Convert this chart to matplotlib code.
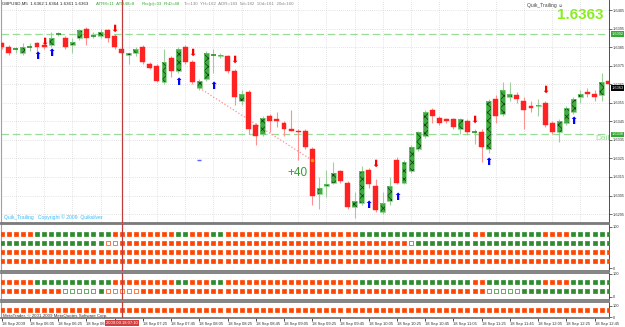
import matplotlib
matplotlib.use("Agg")
import matplotlib.pyplot as plt
from matplotlib.patches import Rectangle

# GBPUSD M5 candles, 18 Sep 2009 05:45 .. 12:55
opens = [1.6387, 1.6385, 1.6384, 1.6382, 1.6385, 1.6387, 1.6386, 1.6386, 1.6392, 1.6390,
         1.6386, 1.6390, 1.6395, 1.6391, 1.6391, 1.6394, 1.6391, 1.6384, 1.6381, 1.6382,
         1.6385, 1.6376, 1.6375, 1.6366, 1.6379, 1.6372, 1.6385, 1.6377, 1.6363, 1.6368,
         1.6381, 1.6380, 1.6380, 1.6372, 1.6356, 1.6361, 1.6343, 1.6338, 1.6348, 1.6346,
         1.6344, 1.6341, 1.6340, 1.6340, 1.6330, 1.6306, 1.6310, 1.6312, 1.6318, 1.6312,
         1.6299, 1.6301, 1.6319, 1.6310, 1.6296, 1.6302, 1.6324, 1.6312, 1.6318, 1.6330,
         1.6337, 1.6351, 1.6347, 1.6346, 1.6346, 1.6341, 1.6345, 1.6339, 1.6339, 1.6330,
         1.6357, 1.6349, 1.6358, 1.6359, 1.6356, 1.6353, 1.6353, 1.6355, 1.6344, 1.6339,
         1.6344, 1.6350, 1.6358, 1.6361, 1.6360, 1.6359, 1.6367]
highs = [1.6388, 1.6386, 1.6385, 1.6387, 1.6387, 1.6388, 1.6386, 1.6393, 1.6393, 1.6391,
         1.6390, 1.6395, 1.6396, 1.6393, 1.6395, 1.6395, 1.6392, 1.6385, 1.6382, 1.6385,
         1.6386, 1.6377, 1.6376, 1.6384, 1.6380, 1.6385, 1.6386, 1.6378, 1.6368, 1.6383,
         1.6384, 1.6382, 1.6381, 1.6373, 1.6362, 1.6362, 1.6344, 1.6348, 1.6349, 1.6350,
         1.6345, 1.6351, 1.6341, 1.6341, 1.6331, 1.6315, 1.6319, 1.6323, 1.6319, 1.6313,
         1.6307, 1.6321, 1.6320, 1.6314, 1.6307, 1.6315, 1.6326, 1.6324, 1.6332, 1.6340,
         1.6351, 1.6352, 1.6348, 1.6347, 1.6347, 1.6347, 1.6346, 1.6341, 1.6341, 1.6357,
         1.6359, 1.6366, 1.6366, 1.6361, 1.6358, 1.6356, 1.6357, 1.6356, 1.6345, 1.6346,
         1.6353, 1.6358, 1.6362, 1.6363, 1.6362, 1.6371, 1.6368]
lows = [1.6384, 1.6381, 1.6382, 1.6381, 1.6383, 1.6382, 1.6384, 1.6385, 1.6391, 1.6384,
        1.6382, 1.6389, 1.6386, 1.6390, 1.6390, 1.6388, 1.6384, 1.6381, 1.6376, 1.6380,
        1.6376, 1.6373, 1.6366, 1.6365, 1.6369, 1.6371, 1.6376, 1.6365, 1.6362, 1.6367,
        1.6371, 1.6379, 1.6371, 1.6354, 1.6354, 1.6338, 1.6332, 1.6337, 1.6339, 1.6342,
        1.6337, 1.6340, 1.6324, 1.6330, 1.6300, 1.6298, 1.6304, 1.6311, 1.6312, 1.6298,
        1.6293, 1.6300, 1.6309, 1.6296, 1.6295, 1.6300, 1.6311, 1.6311, 1.6317, 1.6329,
        1.6336, 1.6344, 1.6343, 1.6344, 1.6341, 1.6338, 1.6338, 1.6333, 1.6323, 1.6328,
        1.6344, 1.6348, 1.6356, 1.6355, 1.6341, 1.6350, 1.6348, 1.6342, 1.6338, 1.6334,
        1.6343, 1.6349, 1.6355, 1.6358, 1.6356, 1.6356, 1.6355]
closes = [1.6385, 1.6382, 1.6384, 1.6385, 1.6385, 1.6385, 1.6385, 1.6390, 1.6392, 1.6385,
          1.6388, 1.6394, 1.6390, 1.6391, 1.6393, 1.6390, 1.6385, 1.6382, 1.6382, 1.6384,
          1.6377, 1.6374, 1.6367, 1.6377, 1.6372, 1.6384, 1.6377, 1.6366, 1.6367, 1.6382,
          1.6381, 1.6381, 1.6372, 1.6358, 1.6360, 1.6341, 1.6337, 1.6347, 1.6345, 1.6345,
          1.6341, 1.6340, 1.6339, 1.6331, 1.6305, 1.6309, 1.6311, 1.6317, 1.6313, 1.6299,
          1.6302, 1.6318, 1.6311, 1.6297, 1.6301, 1.6310, 1.6312, 1.6323, 1.6331, 1.6339,
          1.6350, 1.6348, 1.6344, 1.6345, 1.6342, 1.6346, 1.6339, 1.6339, 1.6331, 1.6356,
          1.6348, 1.6362, 1.6360, 1.6357, 1.6351, 1.6352, 1.6354, 1.6343, 1.6339, 1.6345,
          1.6352, 1.6357, 1.6360, 1.6360, 1.6358, 1.6366, 1.6365]

time_labels = ["18 Sep 2009", "18 Sep 06:05", "18 Sep 06:25", "18 Sep 06:45", "",
               "18 Sep 07:25", "18 Sep 07:45", "18 Sep 08:05", "18 Sep 08:25", "18 Sep 08:45",
               "18 Sep 09:05", "18 Sep 09:25", "18 Sep 09:45", "18 Sep 10:05", "18 Sep 10:25",
               "18 Sep 10:45", "18 Sep 11:05", "18 Sep 11:25", "18 Sep 11:45", "18 Sep 12:05",
               "18 Sep 12:25", "18 Sep 12:45"]
price_ticks = [1.6295, 1.6305, 1.6315, 1.6325, 1.6335, 1.6345, 1.6355, 1.6365,
               1.6375, 1.6385, 1.6395, 1.6405]

up_bars = [5, 7, 25, 30, 52, 56, 69, 81]
up_prices = [1.6380, 1.6382, 1.6366, 1.6364, 1.6300, 1.6304, 1.6323, 1.6345]
down_bars = [6, 16, 27, 33, 53, 67, 77]
down_prices = [1.6388, 1.6395, 1.6382, 1.6378, 1.6322, 1.6346, 1.6362]

daily_high = 1.6392
daily_low = 1.6338
last_price = 1.6363
marked_bar = 17
trend_bars = [28, 44]
trend_prices = [1.6363, 1.6324]

# signal rows: G/O filled green/orange, g/o hollow
sub1_rows = [
    "OOOOO GGGGGGGGGGG OOOOOOOOO GG OOO GG OOOOOOOOOOOOOOOOOOO GGGGGGG GGGGGGGGG OO GGGGGGGG OOOO GGGGGG",
    "GGGGGGGGGGGGGGG oo OOOOOOOOOOOOOOOOOOOOOOOOOOOOOOOOOOOOOOOOO g GGGGGGGGGGGGGGGGGGGGGGGGGGGG",
    "O" * 87,
    "O" * 87,
]
sub1_levels = [83, 61, 39, 17]
sub2_rows = [
    "OOOOO GGGGGGGGGGG OOOOOOOOO GG OOO GG OOOOOOOOOOOOOOOOOOO GGGGGGG GGGGGGGGG OO GGGGGGGG OOOO GGGGGG",
    "OOOOOOOOO ggggg G ooooo OOOOOOOOOOOOOOOOOOOOOOOOOOOOOOOOOOOOOOOOOOOOOOOOO ggggg GGGGGGGGGGGGG",
]
sub2_levels = [65, 26]
sub3_rows = ["O" * 87]
sub3_levels = [64]

plt.rcParams['font.family'] = ['Liberation Sans', 'DejaVu Sans']
plt.rcParams['hatch.linewidth'] = 0.5

W, H = 625, 327
fig = plt.figure(figsize=(W / 100, H / 100), dpi=100)


def pane(top, bottom):
    a = fig.add_axes([1 / W, 1 - bottom / H, 608 / W, (bottom - top) / H])
    a.set_xlim(-0.1, 86.05)
    a.yaxis.tick_right()
    a.tick_params(axis='y', labelsize=2.8, length=2, width=0.5, pad=1, colors='#333333')
    for side in ('top', 'bottom'):
        a.spines[side].set_color('#7a7a7a')
        a.spines[side].set_linewidth(1.3)
    a.spines['left'].set_color('#a0a0a0')
    a.spines['right'].set_color('#333333')
    a.spines['right'].set_linewidth(0.6)
    return a


ax = pane(0, 223)
ax.set_ylim(1.62902, 1.64104)
ax.spines['top'].set_visible(False)

for i, (o, h, l, c) in enumerate(zip(opens, highs, lows, closes)):
    bull = c >= o
    ax.vlines(i, l, h, color='#9ccf9c' if bull else '#ff9090', lw=0.8, zorder=2)
    b0, b1 = min(o, c), max(o, c)
    if b1 - b0 < 0.00005:
        ax.hlines(o, i - 0.35, i + 0.35, color='#2e8b2e' if bull else '#ff2020', lw=1.2, zorder=3)
    elif bull:
        ax.add_patch(Rectangle((i - 0.35, b0), 0.7, b1 - b0, facecolor='#42a842',
                               edgecolor='#0b3d0b', hatch='xxxx', lw=0, zorder=3))
        ax.add_patch(Rectangle((i - 0.35, b0), 0.7, b1 - b0, fill=False,
                               edgecolor='#6fcf6f', lw=0.5, zorder=4))
    else:
        ax.add_patch(Rectangle((i - 0.35, b0), 0.7, b1 - b0, facecolor='#ff2222',
                               edgecolor='#ff2222', lw=0.3, zorder=3))

for b, p in zip(up_bars, up_prices):
    ax.text(b, p, "\u2b06", family='DejaVu Sans', fontsize=7, color='#0000ff',
            ha='center', va='center', zorder=6)
for b, p in zip(down_bars, down_prices):
    ax.text(b, p, "\u2b07", family='DejaVu Sans', fontsize=7, color='#ff0000',
            ha='center', va='center', zorder=6)

ax.axhline(daily_high, color='#99dd99', ls=(0, (6, 3)), lw=0.9, zorder=1)
ax.axhline(daily_low, color='#99dd99', ls=(0, (6, 3)), lw=0.9, zorder=1)
ax.plot(trend_bars, trend_prices, ls=':', color='#ff9090', lw=0.9, zorder=1)
ax.plot(trend_bars[1], trend_prices[1], marker='o', ms=1.5, color='#ff9900', zorder=5)
ax.plot(trend_bars[0], trend_prices[1], marker='_', ms=3, color='#6060ff', zorder=5)
ax.text(41.9, 1.6317, "+40", fontsize=8.5, color='#3a9a3a', ha='center', va='center', zorder=6)
ax.text(84.1, 1.63355, "Daily", fontsize=6, color='#99dd99', ha='left', va='center',
        clip_on=True, zorder=6)

ax.set_xticks(range(2, 87, 4))
ax.tick_params(axis='x', length=0, labelbottom=False)
ax.set_yticks(price_ticks)
ax.set_yticklabels([f"{p:.4f}" for p in price_ticks])
ax.grid(True, color='#c8c8c8', ls=(0, (1, 2)), lw=0.5)
ax.set_axisbelow(True)

for p, bg in ((daily_high, '#33aa33'), (daily_low, '#33aa33'), (last_price, '#000000')):
    ax.text(1.004, p, f"{p:.4f}", transform=ax.get_yaxis_transform(), fontsize=2.8,
            color='white', ha='left', va='center', clip_on=False, zorder=10,
            bbox=dict(facecolor=bg, edgecolor='none', pad=0.6))

s1 = pane(224, 271)
s1.set_ylim(-7.3, 107.3)
s2 = pane(273, 300)
s2.set_ylim(-13, 104)
s3 = pane(302, 318)
s3.set_ylim(-9, 136)


def dots(a, rows, levels):
    for codes, level in zip(rows, levels):
        codes = codes.replace(" ", "")
        assert len(codes) == len(opens), len(codes)
        for i, code in enumerate(codes):
            colour = '#2e8b2e' if code in 'Gg' else '#ff4500'
            face = colour if code.isupper() else 'white'
            a.scatter(i, level, marker='s', s=5, facecolor=face, edgecolor=colour,
                      linewidths=0.5, zorder=3)


dots(s1, sub1_rows, sub1_levels)
dots(s2, sub2_rows, sub2_levels)
dots(s3, sub3_rows, sub3_levels)

for a in (s1, s2, s3):
    a.set_yticks([0, 100])
    a.set_yticklabels(["0", "100"])
    a.set_xticks([])

s3.set_xticks(range(0, 85, 4))
s3.set_xticklabels(time_labels, fontsize=3.0, ha='left', color='#333333')
s3.tick_params(axis='x', length=2, width=0.5, pad=1)
s3.text(marked_bar, -0.3, "2009.09.18 07:10", transform=s3.get_xaxis_transform(),
        ha='center', va='center', fontsize=3.0, color='white', zorder=10, clip_on=False,
        bbox=dict(facecolor='#d04040', edgecolor='none', pad=0.8))

for a in (ax, s1, s2, s3):
    a.axvline(marked_bar, color='#c03c3c', lw=0.9, zorder=5)

# header and indicator captions
fig.text(2 / W, 1 - 4 / H, "GBPUSD,M5  1.6362 1.6364 1.6361 1.6363", fontsize=3.2,
         color='#222222', va='center')
fig.text(96 / W, 1 - 4 / H, "ATR8=11  ATR48=8", fontsize=3.2, color='#33aa33', va='center')
fig.text(142 / W, 1 - 4 / H, "Rec(p)=33", fontsize=3.2, color='#33aa33', va='center')
fig.text(164 / W, 1 - 4 / H, "RnD=48", fontsize=3.2, color='#33aa33', va='center')
fig.text(184 / W, 1 - 4 / H, "Tr=130  YH=162  ADR=183  5d=182  10d=161  20d=160",
         fontsize=3.2, color='#888888', va='center')
fig.text(563 / W, 1 - 5 / H, "Quik_Trailing \u263a", fontsize=3.6, color='#444444',
         ha='right', va='center')
fig.text(603 / W, 1 - 15 / H, f"{last_price:.4f}", fontsize=11, fontweight='bold',
         color='#88ee22', ha='right', va='center')
fig.text(4 / W, 1 - 217 / H, "Quik_Trailing   Copyright \u00a9 2009  Quiksilver", fontsize=3.6,
         color='#33bbff', va='center')
fig.text(3 / W, 1 - 316 / H, "MetaTrader, \u00a9 2001-2009 MetaQuotes Software Corp.",
         fontsize=3.2, color='#333333', va='center')

fig.savefig("out.png", dpi=100)
